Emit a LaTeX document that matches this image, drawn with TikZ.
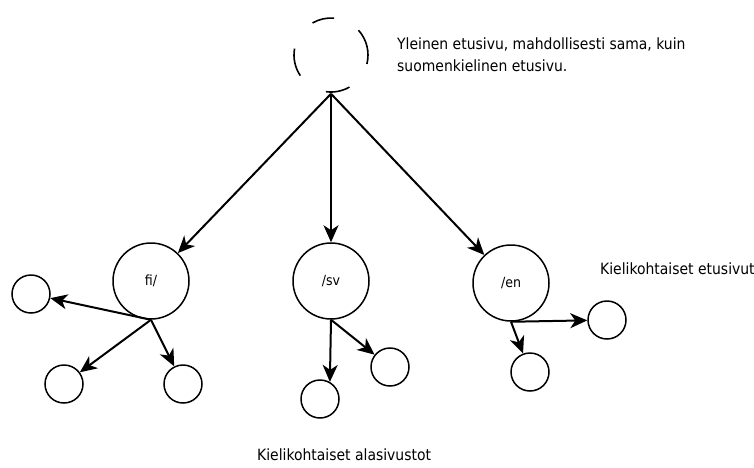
\documentclass[tikz,border=0pt]{standalone}
\usepackage{fontspec}
\setmainfont{DejaVu Sans Condensed}
\usetikzlibrary{arrows.meta}
\tikzset{%
    page/.style={circle,draw,line width=1.5pt,minimum size=76pt,inner sep=0pt,font=\fontsize{14}{16}\selectfont},
    subpage/.style={circle,draw,line width=1.5pt,minimum size=38pt,inner sep=0pt},
    link/.style={->,line width=2pt},
    note/.style={anchor=base west,inner sep=0pt,font=\fontsize{15.5}{18}\selectfont},
}

\begin{document}
\begin{tikzpicture}[x=1pt,y=1pt,>={Stealth[length=17pt,width=15pt,inset=5pt]}]
        \useasboundingbox (0,0) rectangle (754,-467);
        % broken circle at the top
        \node[page,draw=none] (top) at (331,-55) {};
        \draw[line width=1.6pt] (top.center) ++(85:37pt) arc[start angle=85,end angle=120,radius=37pt];
        \draw[line width=1.6pt] (top.center) ++(-14:37pt) arc[start angle=-14,end angle=42,radius=37pt];
        \draw[line width=1.6pt] (top.center) ++(170:37pt) arc[start angle=170,end angle=214,radius=37pt];
        \draw[line width=1.6pt] (top.center) ++(262:37pt) arc[start angle=262,end angle=300,radius=37pt];

        \node[page] (fi) at (151,-281) {fi/};
        \node[page] (sv) at (331,-281) {/sv};
        \node[page] (en) at (511,-283) {/en};

        \node[subpage] (fiA) at (31,-294) {};
        \node[subpage] (fiB) at (64,-384) {};
        \node[subpage] (fiC) at (183,-384) {};
        \node[subpage] (svA) at (320,-399) {};
        \node[subpage] (svB) at (390,-367) {};
        \node[subpage] (enA) at (607,-320) {};
        \node[subpage] (enB) at (530,-372) {};

        \draw[link] (top.south) -- (fi);
        \draw[link] (top.south) -- (sv);
        \draw[link] (top.south) -- (en);

        \draw[link] (fi.south) -- (fiA);
        \draw[link] (fi.south) -- (fiB);
        \draw[link] (fi.south) -- (fiC);
        \draw[link] (sv.south) -- (svA.60);
        \draw[link] (sv.south) -- (svB);
        \draw[link] (en.south) -- (enA);
        \draw[link] (en.south) -- (enB);

        \node[note] (general) at (397,-49) {Yleinen etusivu, mahdollisesti sama, kuin};
        \node[note] (general2) at (397,-71) {suomenkielinen etusivu.};
        \node[note] (fronts) at (600,-274) {Kielikohtaiset etusivut};
        \node[note] (subsites) at (257,-460) {Kielikohtaiset alasivustot};
\end{tikzpicture}
\end{document}
